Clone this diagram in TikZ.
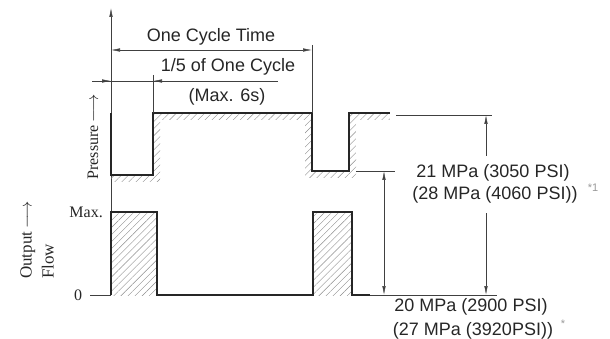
\documentclass[tikz,border=0pt]{standalone}
\usepackage{fontspec}
\setmainfont{Liberation Sans}
\newfontfamily\seriffont{Liberation Serif}
\usetikzlibrary{calc,arrows.meta,patterns.meta}
\tikzset{
	wave/.style={line width=0.7mm, color=black!85},
	thinline/.style={line width=0.2mm, color=black!75},
	tip/.style={-{Latex[length=9pt,width=3.5pt]}},
	dimarrow/.style={thinline, {Latex[length=9pt,width=3.5pt]}-{Latex[length=9pt,width=3.5pt]}},
	hatch/.style={pattern={Lines[angle=45,distance=5pt,line width=0.4pt]}, pattern color=black!45},
	lbl/.style={font=\fontsize{18}{22}\selectfont, text=black!85, inner sep=0pt},
	axlbl/.style={font=\seriffont\fontsize{16}{22}\selectfont, text=black!85, inner sep=0pt},
	note/.style={font=\fontsize{11}{13}\selectfont, text=black!40, inner sep=0pt},
}

\begin{document}
\begin{tikzpicture}[x=1pt,y=-1pt]
			%%%%% START %%%%%
			\useasboundingbox (0,0) rectangle (610,339);
			
			\draw[thinline, -{Latex[length=9pt,width=3.5pt]}] (111,295) -- (111,8);
			\draw[thinline] (90,295) -- (111,295);
			
			\fill[hatch] (111,175) -- (153,175) -- (153,113) -- (312,113) -- (312,171) -- (349,171) -- (349,113) -- (390,113) -- (390,120) -- (356,120) -- (356,178) -- (305,178) -- (305,120) -- (160,120) -- (160,182) -- (111,182) -- cycle;
			\draw[wave] (111,113) -- (111,175) -- (153,175) -- (153,113) -- (312,113) -- (312,171) -- (349,171) -- (349,113) -- (390,113);
			
			\fill[hatch] (111,212) rectangle (157,295);
			\fill[hatch] (313,212) rectangle (352,295);
			\draw[wave] (111,295) -- (111,212) -- (157,212) -- (157,295) -- (313,295) -- (313,212) -- (352,212) -- (352,295) -- (370,295);
			
			\draw[thinline] (153,75) -- (153,113);
			\draw[thinline] (312,45) -- (312,113);
			\draw[thinline] (396,115) -- (492,115);
			\draw[thinline] (356,171) -- (395,171);
			\draw[thinline] (370,295) -- (497,295);
			
			\coordinate (cycL) at (111,50);
			\coordinate (cycR) at (312,50);
			\draw[dimarrow] (cycL) -- (cycR);
			
			\coordinate (fifL) at (92,81);
			\coordinate (fifA) at (111,81);
			\coordinate (fifB) at (153,81);
			\coordinate (fifR) at (278,81);
			\draw[thinline] (fifL) -- (fifR);
			\draw[thinline, tip] (fifL) -- (fifA);
			\draw[thinline, tip] ($(fifB)+(16,0)$) -- (fifB);
			
			\coordinate (hiTop) at (486,115);
			\coordinate (hiGapA) at (486,156);
			\coordinate (hiGapB) at (486,213);
			\coordinate (hiBot) at (486,295);
			\draw[thinline, tip] (hiGapA) -- (hiTop);
			\draw[thinline, tip] (hiGapB) -- (hiBot);
			
			\coordinate (loTop) at (384,171);
			\coordinate (loBot) at (384,295);
			\draw[dimarrow] (loTop) -- (loBot);
			
			\node[lbl] (cycle) at (211,37) {One Cycle Time};
			\node[lbl] (fifth) at (228,67) {1/5 of One Cycle};
			\node[lbl] (maxsix) at (227,97) {(Max. 6s)};
			
			\node[lbl] (hi1) at (493,173) {21 MPa (3050 PSI)};
			\node[lbl] (hi2) at (495,195) {(28 MPa (4060 PSI))};
			\node[note] (hinote) at (593,188) {*1};
			\node[lbl] (lo1) at (471,307) {20 MPa (2900 PSI)};
			\node[lbl] (lo2) at (473,331) {(27 MPa (3920PSI))};
			\node[note] (lonote) at (563,324) {*};
			
			\node[axlbl, rotate=90] (press) at (93,137) {Pressure\,$\longrightarrow$};
			\node[axlbl, anchor=east] (maxlbl) at (103,212) {Max.};
			\node[axlbl] (zero) at (78,295) {0};
			\node[axlbl, rotate=90, align=left, font=\seriffont\fontsize{17}{22}\selectfont] (flow) at (37,240) {Output\,$\longrightarrow$\\Flow};
			
			%%%%% END %%%%%
\end{tikzpicture}
\end{document}
